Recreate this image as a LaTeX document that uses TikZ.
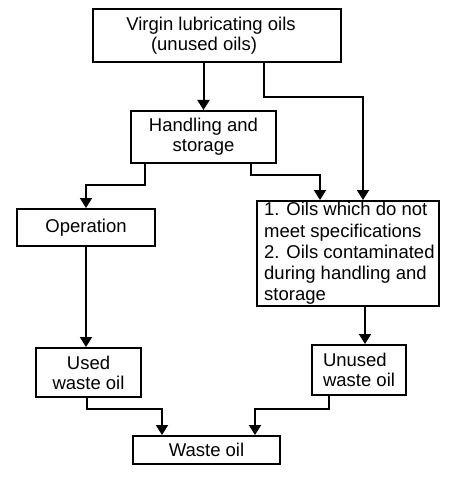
\documentclass[tikz,border=0pt]{standalone}
\usepackage{fontspec}
\setmainfont{Liberation Sans}
\usetikzlibrary{arrows.meta,calc}
\begin{document}
\begin{tikzpicture}[x=1pt,y=-1pt,
  box/.style={draw, line width=2pt, rectangle, inner sep=0pt,
    font=\fontsize{18.5}{20}\selectfont, align=center},
  conn/.style={line width=2pt, -{Triangle[width=12pt,length=10pt]}}]
\fill[white] (0,0) rectangle (454,478);
\useasboundingbox (0,0) rectangle (454,478);

\node[box, minimum width=248pt, minimum height=53pt] (virgin) at (217,35.5)
  {Virgin lubricating oils\hspace*{12pt}\\(unused oils)\hspace*{26pt}};
\node[box, minimum width=145pt, minimum height=52pt] (handling) at (203.5,137)
  {Handling and\\storage};
\node[box, minimum width=138pt, minimum height=37pt] (operation) at (86,227.5)
  {Operation};
\node[box, minimum width=182pt, minimum height=105pt] (right) at (348,253.5) {};
\node[anchor=west, inner sep=0pt, align=left,
  font=\fontsize{18.5}{21.25}\selectfont] (rightlabel) at ([xshift=8pt]right.west)
  {1. Oils which do not\\meet specifications\\2. Oils contaminated\\during handling and\\storage};
\node[box, minimum width=105pt, minimum height=49pt] (used) at (88.5,372.5)
  {Used\\waste oil};
\node[box, minimum width=94pt, minimum height=50pt, align=left] (unused) at (359,370)
  {Unused\\waste oil};
\node[box, minimum width=147pt, minimum height=28pt] (waste) at (206.5,450)
  {Waste oil};

\draw[conn] (virgin.south -| handling.north) -- (handling.north);
\draw[conn] ([xshift=47pt]virgin.south) -- ++(0,34) -| ([xshift=15pt]right.north);
\draw[conn] ([xshift=-58.5pt]handling.south) -- ++(0,21) -| (operation.north);
\draw[conn] ([xshift=47.5pt]handling.south) -- ++(0,11) -| ([xshift=-28pt]right.north);
\draw[conn] (operation.south) -- (operation.south |- used.north);
\draw[conn] ([xshift=17pt]right.south) -- ([xshift=17pt]right.south |- unused.north);
\draw[conn] ([xshift=-1.5pt]used.south) -- ++(0,11) -| ([xshift=-44.5pt]waste.north);
\draw[conn] ([xshift=-30pt]unused.south) -- ++(0,13) -| ([xshift=48.5pt]waste.north);
\end{tikzpicture}
\end{document}
